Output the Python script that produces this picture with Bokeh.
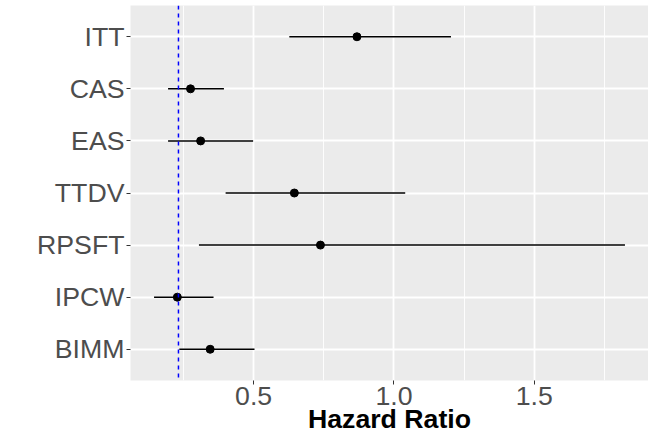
from bokeh.plotting import figure
from bokeh.models import FactorRange, Range1d, FixedTicker, PrintfTickFormatter, Span, ColumnDataSource
from bokeh.embed import file_html
from bokeh.resources import INLINE

# Data
methods = ["ITT", "CAS", "EAS", "TTDV", "RPSFT", "IPCW", "BIMM"]
hr = [0.868, 0.275, 0.311, 0.645, 0.738, 0.228, 0.345]
lower = [0.627, 0.195, 0.195, 0.400, 0.305, 0.145, 0.235]
upper = [1.203, 0.394, 0.498, 1.040, 1.823, 0.357, 0.503]
ref_hr = 0.232
x_ticks = [0.5, 1.0, 1.5]
x_minor = [0.25, 0.75, 1.25, 1.75]

src = ColumnDataSource(dict(method=methods, hr=hr, lower=lower, upper=upper))

lo, hi = min(lower), max(upper)
pad = 0.05 * (hi - lo)

FONT = "Liberation Sans"
FS = "26.7px"

p = figure(
    width=648, height=436,
    y_range=FactorRange(factors=methods[::-1], range_padding=0.1, range_padding_units="absolute"),
    x_range=Range1d(lo - pad, hi + pad),
    output_backend="svg", toolbar_location=None,
    min_border_left=130, min_border_right=0, min_border_top=5, min_border_bottom=0,
)
p.background_fill_color = "#EBEBEB"
p.border_fill_color = "white"
p.outline_line_color = None

p.xaxis.ticker = FixedTicker(ticks=x_ticks, minor_ticks=x_minor)
p.xaxis.formatter = PrintfTickFormatter(format="%.1f")
p.xgrid.grid_line_color = "white"
p.xgrid.grid_line_width = 1.8
p.xgrid.minor_grid_line_color = "white"
p.xgrid.minor_grid_line_width = 0.9
p.ygrid.grid_line_color = "white"
p.ygrid.grid_line_width = 1.8

for ax in (p.xaxis[0], p.yaxis[0]):
    ax.axis_line_color = None
    ax.major_tick_line_color = "#333333"
    ax.major_tick_line_width = 1
    ax.major_tick_out = 4
    ax.major_tick_in = 0
    ax.minor_tick_line_color = None
    ax.major_label_text_font = FONT
    ax.major_label_text_font_size = FS
    ax.major_label_text_color = "#4D4D4D"

p.yaxis.major_label_standoff = 2
p.xaxis.major_label_standoff = 2
p.xaxis.axis_label = "Hazard Ratio"
p.xaxis.axis_label_text_font = FONT
p.xaxis.axis_label_text_font_size = FS
p.xaxis.axis_label_text_font_style = "bold"
p.xaxis.axis_label_text_color = "black"
p.xaxis.axis_label_standoff = -4

p.segment(x0="lower", y0="method", x1="upper", y1="method", source=src,
          line_color="black", line_width=1.5)
p.scatter(x="hr", y="method", source=src, size=8, color="black")

p.add_layout(Span(location=ref_hr, dimension="height", line_color="blue",
                  line_dash="4 4", line_width=1.5))

open("out.html", "w").write(file_html(p, INLINE))
